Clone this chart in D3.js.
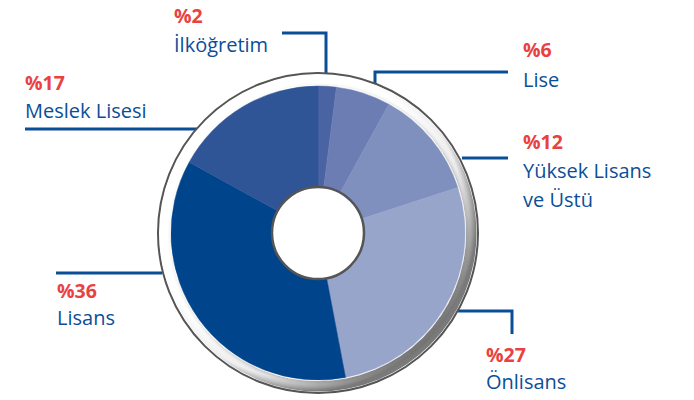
<!DOCTYPE html>
<html><head><meta charset="utf-8">
<script src="https://cdn.jsdelivr.net/npm/d3@7"></script>
<style>html,body{margin:0;padding:0;background:#fff;}svg{display:block;}</style>
</head><body>
<svg id="chart" width="694" height="400"></svg>
<script>
const categories = ["İlköğretim", "Lise", "Yüksek Lisans ve Üstü", "Önlisans", "Lisans", "Meslek Lisesi"];
const values = [2, 6, 12, 27, 36, 17];
const percentLabels = ["%2", "%6", "%12", "%27", "%36", "%17"];
const nameLines = [["İlköğretim"], ["Lise"], ["Yüksek Lisans", "ve Üstü"], ["Önlisans"], ["Lisans"], ["Meslek Lisesi"]];
const sliceColors = ["#4a63a2", "#6b7db3", "#7f8fbe", "#97a5cb", "#00448b", "#2f5597"];

const W = 694, H = 400;
const cx = 318, cy = 233;
const rOuter = 147, rInner = 46, rRing = 160;
const lineColor = "#0b4e98", red = "#ea4140", textBlue = "#0b4e98";
const font = "'Open Sans', Lato, sans-serif";

// annotation layout (label anchor + leader polyline)
const labelLayout = [
  {x: 174, y1: 23, y2: 52, line: [[282, 33], [326, 33], [326, 73]]},
  {x: 523, y1: 57, y2: 87, line: [[508, 72], [375, 72], [375, 84]]},
  {x: 523, y1: 149, y2: 178, line: [[508, 158], [462, 158]]},
  {x: 486, y1: 362, y2: 389, line: [[512, 334], [512, 311], [458, 311]]},
  {x: 57, y1: 298, y2: 325, line: [[56, 273], [162, 273]]},
  {x: 25, y1: 90, y2: 118, line: [[25, 129], [198, 129]]}
];

const svg = d3.select("#chart");
const defs = svg.append("defs");

const rg = defs.append("radialGradient").attr("id", "ringGrad")
  .attr("cx", "0.455").attr("cy", "0.455").attr("r", "0.545");
rg.append("stop").attr("offset", "0.86").attr("stop-color", "#ffffff");
rg.append("stop").attr("offset", "0.93").attr("stop-color", "#eeeeee");
rg.append("stop").attr("offset", "1").attr("stop-color", "#7a7a7a");

const sh = defs.append("filter").attr("id", "shadow").attr("x", "-20%").attr("y", "-20%").attr("width", "140%").attr("height", "140%");
sh.append("feDropShadow").attr("dx", 2).attr("dy", 2).attr("stdDeviation", 2).attr("flood-color", "#000").attr("flood-opacity", 0.3);

// leader lines (behind)
const lineGen = d3.line();
svg.append("g").selectAll("path").data(labelLayout).join("path")
  .attr("d", d => lineGen(d.line))
  .attr("fill", "none").attr("stroke", lineColor).attr("stroke-width", 3);

const g = svg.append("g").attr("transform", `translate(${cx},${cy})`);

// outer ring
g.append("circle").attr("r", rRing).attr("fill", "#fff").attr("stroke", "#555").attr("stroke-width", 2);
g.append("circle").attr("r", rRing - 1.5).attr("fill", "url(#ringGrad)");
g.append("circle").attr("r", rOuter + 1).attr("fill", "#fff").attr("filter", "url(#shadow)");

const pie = d3.pie().sort(null).value(d => d)(values);
const arc = d3.arc().innerRadius(0).outerRadius(rOuter);
const color = d3.scaleOrdinal().domain(categories).range(sliceColors);

g.selectAll("path.slice").data(pie).join("path").attr("class", "slice")
  .attr("d", arc)
  .attr("fill", (d, i) => color(categories[i]))
  .attr("stroke", (d, i) => color(categories[i])).attr("stroke-width", 0.5);

// hole
g.append("circle").attr("r", rInner).attr("fill", "#fff").attr("stroke", "#555").attr("stroke-width", 2.5);

// labels
const lab = svg.append("g").attr("font-family", font);
labelLayout.forEach((L, i) => {
  lab.append("text").attr("x", L.x).attr("y", L.y1).attr("fill", red)
    .attr("font-weight", "bold").attr("font-size", 19.5).text(percentLabels[i]);
  nameLines[i].forEach((t, j) => {
    lab.append("text").attr("x", L.x).attr("y", L.y2 + j * 29).attr("fill", textBlue)
      .attr("font-size", 20).text(t);
  });
});
</script>
</body></html>
